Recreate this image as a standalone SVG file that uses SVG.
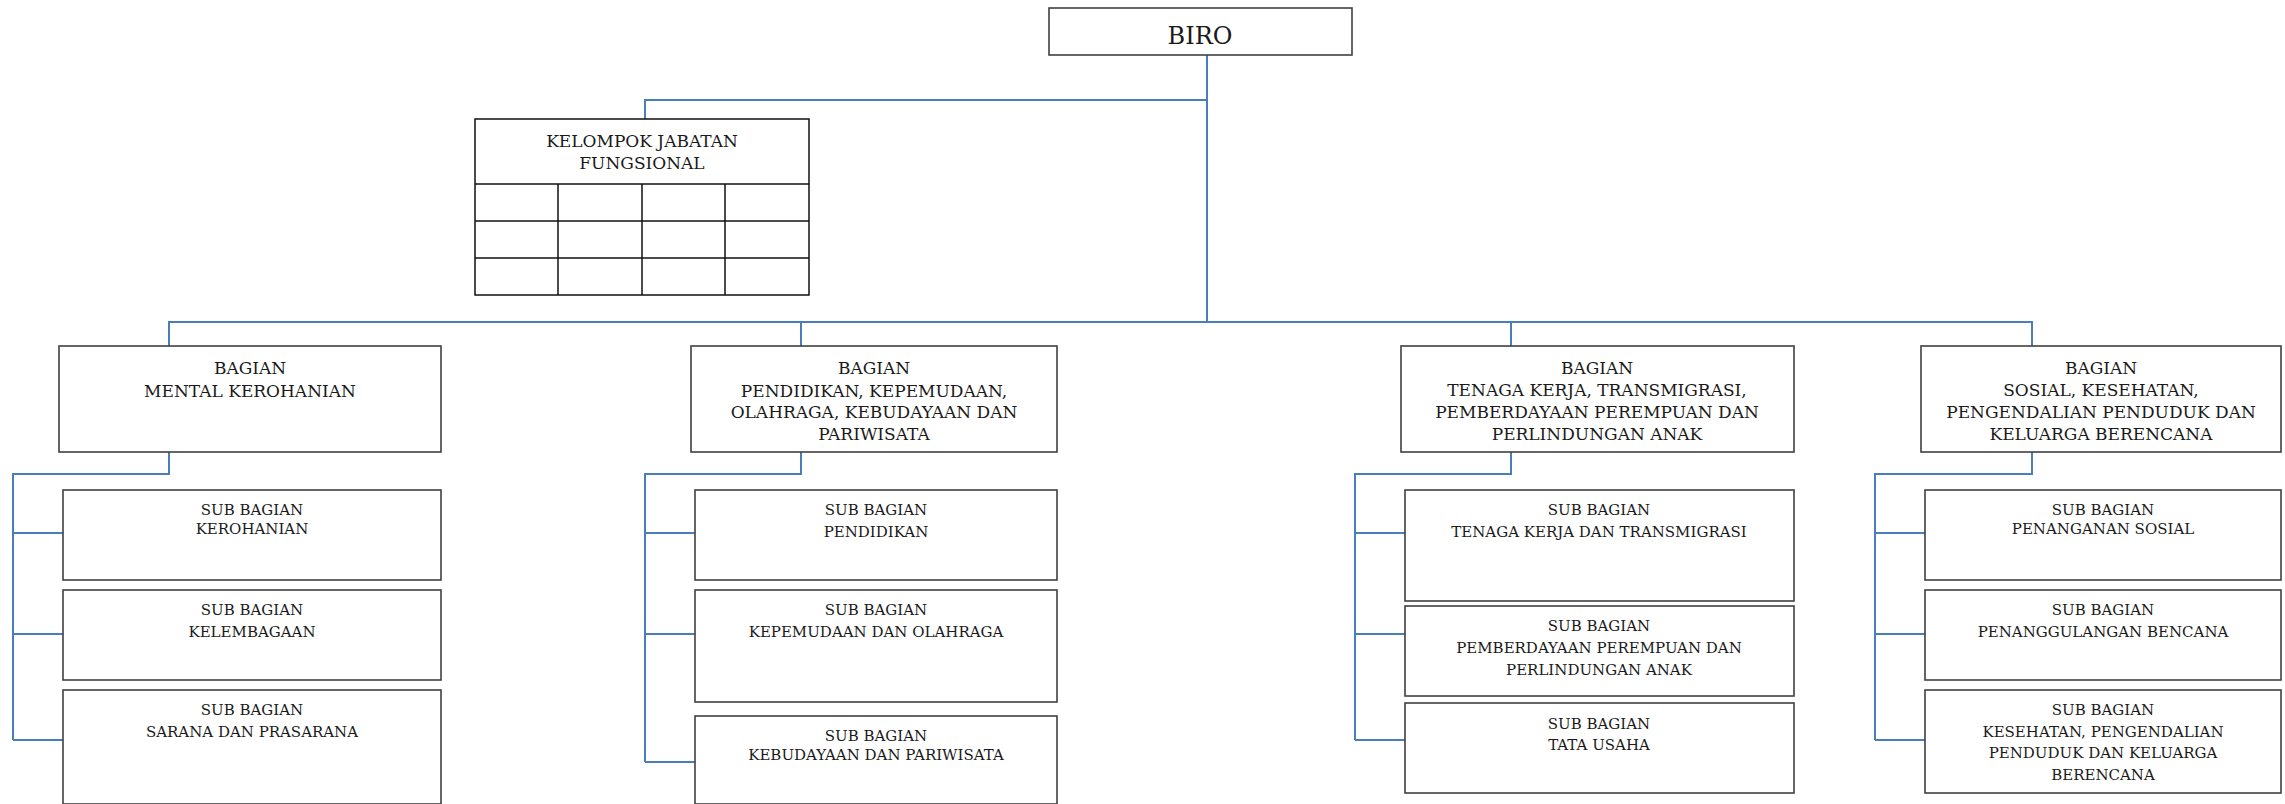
<svg xmlns="http://www.w3.org/2000/svg" width="2285" height="804" viewBox="0 0 2285 804">
<style>
.box{fill:#fff;stroke:#404040;stroke-width:1.6}
.grid{fill:none;stroke:#111;stroke-width:1.5}
.con{fill:none;stroke:#4a7ebb;stroke-width:2}
text{font-family:"DejaVu Serif","Liberation Serif",serif;fill:#1a1a1a;text-anchor:middle}
.t1{font-size:24px}
.t2{font-size:17px}
.t3{font-size:15px}
</style>
<rect width="2285" height="804" fill="#fff"/>
<g id="connectors">
<polyline class="con" points="1207,55 1207,322"/>
<polyline class="con" points="1207,100 645,100 645,119"/>
<polyline class="con" points="169,346 169,322 2032,322 2032,346"/>
<line class="con" x1="801" y1="322" x2="801" y2="346"/>
<line class="con" x1="1511" y1="322" x2="1511" y2="346"/>
<polyline class="con" points="169,452 169,474 13,474 13,740"/>
<line class="con" x1="13" y1="533" x2="63" y2="533"/>
<line class="con" x1="13" y1="634" x2="63" y2="634"/>
<line class="con" x1="13" y1="740" x2="63" y2="740"/>
<polyline class="con" points="801,452 801,474 645,474 645,762"/>
<line class="con" x1="645" y1="533" x2="695" y2="533"/>
<line class="con" x1="645" y1="634" x2="695" y2="634"/>
<line class="con" x1="645" y1="762" x2="695" y2="762"/>
<polyline class="con" points="1511,452 1511,474 1355,474 1355,740"/>
<line class="con" x1="1355" y1="533" x2="1405" y2="533"/>
<line class="con" x1="1355" y1="634" x2="1405" y2="634"/>
<line class="con" x1="1355" y1="740" x2="1405" y2="740"/>
<polyline class="con" points="2032,452 2032,474 1875,474 1875,740"/>
<line class="con" x1="1875" y1="533" x2="1925" y2="533"/>
<line class="con" x1="1875" y1="634" x2="1925" y2="634"/>
<line class="con" x1="1875" y1="740" x2="1925" y2="740"/>
</g>
<g id="biro">
<rect class="box" x="1049" y="8" width="303" height="47"/>
<text class="t1" x="1200" y="44">BIRO</text>
</g>
<g id="kjf">
<rect class="grid" x="475" y="119" width="334" height="176"/>
<line class="grid" x1="475" y1="184" x2="809" y2="184"/>
<line class="grid" x1="475" y1="221" x2="809" y2="221"/>
<line class="grid" x1="475" y1="258" x2="809" y2="258"/>
<line class="grid" x1="558" y1="184" x2="558" y2="295"/>
<line class="grid" x1="642" y1="184" x2="642" y2="295"/>
<line class="grid" x1="725" y1="184" x2="725" y2="295"/>
<text class="t2" x="642" y="147">KELOMPOK JABATAN</text>
<text class="t2" x="642" y="169">FUNGSIONAL</text>
</g>
<g id="bagian-mental">
<rect class="box" x="59" y="346" width="382" height="106"/>
<text class="t2" x="250" y="374">BAGIAN</text>
<text class="t2" x="250" y="397">MENTAL KEROHANIAN</text>
</g>
<g id="bagian-pendidikan">
<rect class="box" x="691" y="346" width="366" height="106"/>
<text class="t2" x="874" y="374">BAGIAN</text>
<text class="t2" x="874" y="397">PENDIDIKAN, KEPEMUDAAN,</text>
<text class="t2" x="874" y="418">OLAHRAGA, KEBUDAYAAN DAN</text>
<text class="t2" x="874" y="440">PARIWISATA</text>
</g>
<g id="bagian-tenaga">
<rect class="box" x="1401" y="346" width="393" height="106"/>
<text class="t2" x="1597" y="374">BAGIAN</text>
<text class="t2" x="1597" y="396">TENAGA KERJA, TRANSMIGRASI,</text>
<text class="t2" x="1597" y="418">PEMBERDAYAAN PEREMPUAN DAN</text>
<text class="t2" x="1597" y="440">PERLINDUNGAN ANAK</text>
</g>
<g id="bagian-sosial">
<rect class="box" x="1921" y="346" width="360" height="106"/>
<text class="t2" x="2101" y="374">BAGIAN</text>
<text class="t2" x="2101" y="396">SOSIAL, KESEHATAN,</text>
<text class="t2" x="2101" y="418">PENGENDALIAN PENDUDUK DAN</text>
<text class="t2" x="2101" y="440">KELUARGA BERENCANA</text>
</g>
<g id="sub-kerohanian">
<rect class="box" x="63" y="490" width="378" height="90"/>
<text class="t3" x="252" y="515">SUB BAGIAN</text>
<text class="t3" x="252" y="534">KEROHANIAN</text>
</g>
<g id="sub-kelembagaan">
<rect class="box" x="63" y="590" width="378" height="90"/>
<text class="t3" x="252" y="615">SUB BAGIAN</text>
<text class="t3" x="252" y="637">KELEMBAGAAN</text>
</g>
<g id="sub-sarana">
<rect class="box" x="63" y="690" width="378" height="114"/>
<text class="t3" x="252" y="715">SUB BAGIAN</text>
<text class="t3" x="252" y="737">SARANA DAN PRASARANA</text>
</g>
<g id="sub-pendidikan">
<rect class="box" x="695" y="490" width="362" height="90"/>
<text class="t3" x="876" y="515">SUB BAGIAN</text>
<text class="t3" x="876" y="537">PENDIDIKAN</text>
</g>
<g id="sub-kepemudaan">
<rect class="box" x="695" y="590" width="362" height="112"/>
<text class="t3" x="876" y="615">SUB BAGIAN</text>
<text class="t3" x="876" y="637">KEPEMUDAAN DAN OLAHRAGA</text>
</g>
<g id="sub-kebudayaan">
<rect class="box" x="695" y="716" width="362" height="88"/>
<text class="t3" x="876" y="741">SUB BAGIAN</text>
<text class="t3" x="876" y="760">KEBUDAYAAN DAN PARIWISATA</text>
</g>
<g id="sub-tenaga">
<rect class="box" x="1405" y="490" width="389" height="111"/>
<text class="t3" x="1599" y="515">SUB BAGIAN</text>
<text class="t3" x="1599" y="537">TENAGA KERJA DAN TRANSMIGRASI</text>
</g>
<g id="sub-pemberdayaan">
<rect class="box" x="1405" y="606" width="389" height="90"/>
<text class="t3" x="1599" y="631">SUB BAGIAN</text>
<text class="t3" x="1599" y="653">PEMBERDAYAAN PEREMPUAN DAN</text>
<text class="t3" x="1599" y="675">PERLINDUNGAN ANAK</text>
</g>
<g id="sub-tatausaha">
<rect class="box" x="1405" y="703" width="389" height="90"/>
<text class="t3" x="1599" y="729">SUB BAGIAN</text>
<text class="t3" x="1599" y="750">TATA USAHA</text>
</g>
<g id="sub-penanganan">
<rect class="box" x="1925" y="490" width="356" height="90"/>
<text class="t3" x="2103" y="515">SUB BAGIAN</text>
<text class="t3" x="2103" y="534">PENANGANAN SOSIAL</text>
</g>
<g id="sub-penanggulangan">
<rect class="box" x="1925" y="590" width="356" height="90"/>
<text class="t3" x="2103" y="615">SUB BAGIAN</text>
<text class="t3" x="2103" y="637">PENANGGULANGAN BENCANA</text>
</g>
<g id="sub-kesehatan">
<rect class="box" x="1925" y="690" width="356" height="103"/>
<text class="t3" x="2103" y="715">SUB BAGIAN</text>
<text class="t3" x="2103" y="737">KESEHATAN, PENGENDALIAN</text>
<text class="t3" x="2103" y="758">PENDUDUK DAN KELUARGA</text>
<text class="t3" x="2103" y="780">BERENCANA</text>
</g>
</svg>
